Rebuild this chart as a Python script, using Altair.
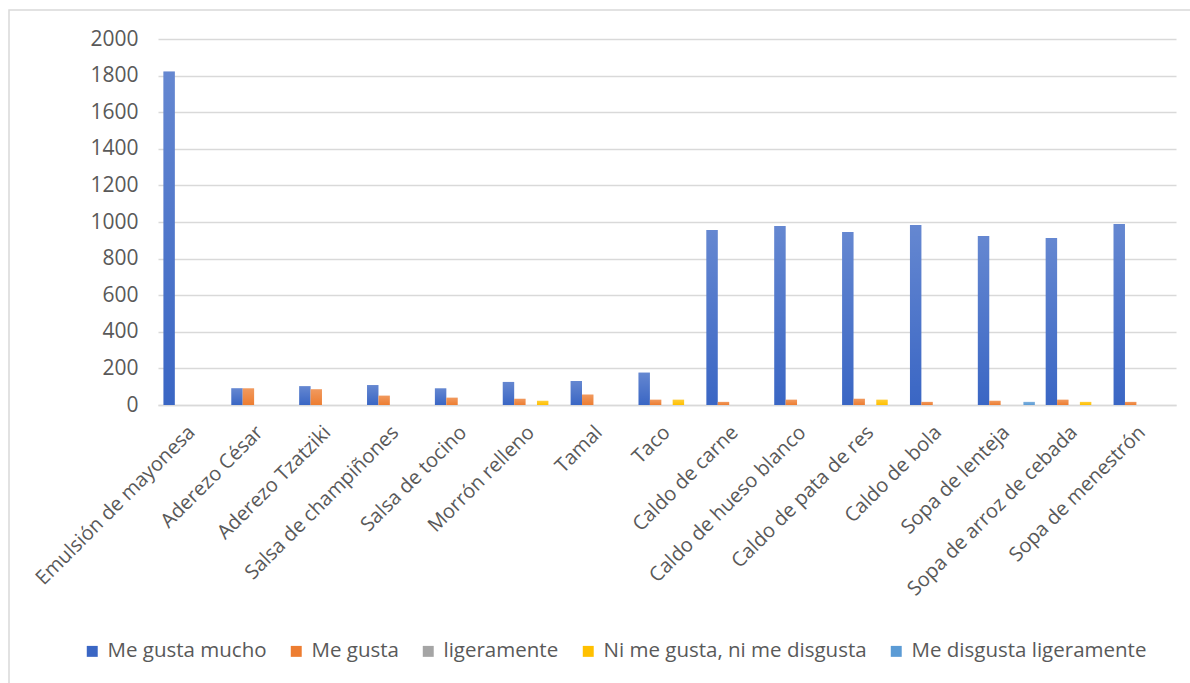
import altair as alt
import pandas as pd

# Survey of liking for each dish, grouped by response level
categories = [
    "Emulsión de mayonesa", "Aderezo César", "Aderezo Tzatziki",
    "Salsa de champiñones", "Salsa de tocino", "Morrón relleno", "Tamal",
    "Taco", "Caldo de carne", "Caldo de hueso blanco", "Caldo de pata de res",
    "Caldo de bola", "Sopa de lenteja", "Sopa de arroz de cebada",
    "Sopa de menestrón",
]
series = [
    "Me gusta mucho", "Me gusta", "ligeramente",
    "Ni me gusta, ni me disgusta", "Me disgusta ligeramente",
]
me_gusta_mucho = [1822, 91, 103, 109, 91, 126, 131, 177, 956, 978, 945, 984, 924, 913, 989]
me_gusta = [0, 91, 86, 51, 40, 34, 57, 29, 17, 29, 34, 17, 23, 29, 17]
ligeramente = [0] * 15
ni_me_gusta = [0, 0, 0, 0, 0, 23, 0, 29, 0, 0, 29, 0, 0, 17, 0]
me_disgusta_lig = [0, 0, 0, 0, 0, 0, 0, 0, 0, 0, 0, 0, 17, 0, 0]
y_ticks = list(range(0, 2001, 200))

colors = ["#3a66c4", "#ed7d31", "#a5a5a5", "#ffc000", "#5b9bd5"]

rows = []
for name, vals in zip(series, [me_gusta_mucho, me_gusta, ligeramente, ni_me_gusta, me_disgusta_lig]):
    for cat, v in zip(categories, vals):
        rows.append({"Plato": cat, "Respuesta": name, "Valor": v})
df = pd.DataFrame(rows)

FONT = "Open Sans"
TEXT = "#595959"
GRID = "#d9d9d9"

x_enc = alt.X(
    "Plato:N", sort=categories, title=None,
    scale=alt.Scale(paddingInner=0.16, paddingOuter=0.08),
    axis=alt.Axis(labelAngle=-45, labelAlign="right", labelBaseline="middle",
                  labelFontSize=20, labelColor=TEXT, labelFont=FONT,
                  ticks=False, domain=True, domainColor=GRID, domainWidth=1.5,
                  labelPadding=24, labelLimit=400),
)
xoff_enc = alt.XOffset("Respuesta:N", sort=series, scale=alt.Scale(domain=series, paddingInner=0, paddingOuter=0))
y_enc = alt.Y(
    "Valor:Q", title=None,
    scale=alt.Scale(domain=[0, 2000], nice=False),
    axis=alt.Axis(values=y_ticks, format="d", grid=True, gridColor=GRID,
                  gridWidth=1.3, ticks=False, domain=False, labelFontSize=21,
                  labelColor=TEXT, labelFont=FONT, labelPadding=20),
)

bars = alt.Chart(df).mark_bar().encode(
    x=x_enc, xOffset=xoff_enc, y=y_enc,
    color=alt.Color(
        "Respuesta:N", sort=series,
        scale=alt.Scale(domain=series, range=colors),
        legend=alt.Legend(
            title=None, orient="none", direction="horizontal", columns=5,
            legendX=-76, legendY=602, symbolType="square", symbolSize=120,
            symbolStrokeWidth=0, labelFontSize=20.5, labelColor=TEXT,
            labelFont=FONT, labelOffset=5, columnPadding=19, labelLimit=400,
        ),
    ),
)

# soft highlight toward the top of each bar
sheen = alt.Chart(df).transform_filter("datum.Valor > 0").mark_bar(
    color=alt.Gradient(
        gradient="linear", x1=0, y1=0, x2=0, y2=1,
        stops=[
            alt.GradientStop(color="rgba(255,255,255,0.22)", offset=0),
            alt.GradientStop(color="rgba(255,255,255,0)", offset=1),
        ],
    )
).encode(x=x_enc, xOffset=xoff_enc, y=y_enc)

# outer chart frame
frame = alt.Chart(pd.DataFrame({"k": [0]})).mark_rect(
    fill=None, stroke=GRID, strokeWidth=1.5
).encode(
    x=alt.value(-149), x2=alt.value(1045), y=alt.value(-29), y2=alt.value(660)
)

chart = alt.layer(frame, bars, sheen).properties(
    width=1018, height=366,
    autosize=alt.AutoSizeParams(type="none"),
    padding={"left": 158, "top": 39, "right": 14, "bottom": 278},
    background="white",
).configure_view(stroke=None)

chart.save("out.html", embed_options={"renderer": "svg", "actions": False})
